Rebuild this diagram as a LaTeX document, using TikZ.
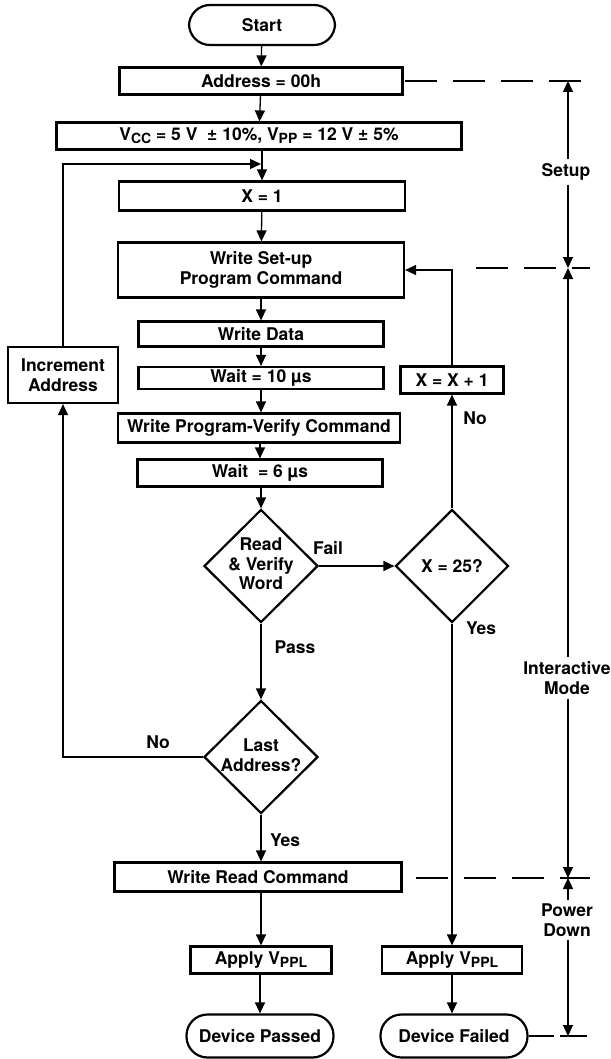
\documentclass[tikz,border=0pt]{standalone}
\usepackage{fontspec}
\setmainfont{TeX Gyre Heros}
\usetikzlibrary{shapes.geometric,arrows.meta}
\newcommand\fsz{\fontsize{17.5}{19.5}\selectfont\bfseries}
\newcommand\subx[1]{\raisebox{-3pt}{\fontsize{14}{14}\selectfont #1}}
\begin{document}
\begin{tikzpicture}[x=1pt,y=-1pt,
  box/.style={draw,line width=2.2pt,rectangle,inner sep=0pt,align=center,font=\fsz},
  term/.style={box,rounded corners=21pt},
  diam/.style={draw,line width=2.2pt,diamond,inner sep=0pt,aspect=1},
  txt/.style={inner sep=0pt,align=center,font=\fsz},
  lbl/.style={inner sep=4pt,align=center,font=\fsz},
  conn/.style={line width=1.3pt,-{Triangle[length=11pt,width=10pt]}},
  plain/.style={line width=1.3pt},
  dline/.style={line width=1.3pt,dash pattern=on 32pt off 16pt},
]
\useasboundingbox (0,0) rectangle (610,1059);
% main column
\node[term,minimum width=146pt,minimum height=40pt] (start) at (262,25) {Start};
\node[box,minimum width=283pt,minimum height=27pt] (addr) at (261,81) {Address = 00h};
\node[box,minimum width=405pt,minimum height=27pt] (vcc) at (259,136) {V\subx{CC} = 5 V\ \ ± 10\%, V\subx{PP} = 12 V ± 5\%};
\node[box,minimum width=286pt,minimum height=29pt] (x1) at (262,196) {X = 1};
\node[box,minimum width=286pt,minimum height=55pt] (wsp) at (261,270) {Write Set-up\\Program Command};
\node[box,minimum width=245pt,minimum height=25pt] (wd) at (261,334) {Write Data};
\node[box,minimum width=245pt,minimum height=22pt] (w10) at (261,378) {Wait = 10 µs};
\node[box,minimum width=282pt,minimum height=29pt] (wpv) at (259,428) {Write Program-Verify Command};
\node[box,minimum width=245pt,minimum height=27pt] (w6) at (260,473) {Wait\ \ = 6 µs};
\node[diam,minimum width=114pt,minimum height=113pt] (rv) at (261,566) {};
\node[txt] (rvt) at (261,564) {Read\\\& Verify\\Word};
\node[diam,minimum width=114pt,minimum height=113pt] (last) at (261,757) {};
\node[txt] (lastt) at (261,755) {Last\\Address?};
\node[box,minimum width=287pt,minimum height=29pt] (wrc) at (258,877) {Write Read Command};
\node[box,minimum width=141pt,minimum height=27pt] (apl) at (261,960) {Apply V\subx{PPL}};
\node[term,minimum width=147pt,minimum height=43pt] (dp) at (260,1036) {Device Passed};
% right column
\node[diam,minimum width=113pt,minimum height=113pt] (x25) at (452,566) {};
\node[txt] (x25t) at (452,566) {X = 25?};
\node[box,minimum width=103pt,minimum height=27pt] (xx1) at (452,380) {X = X + 1};
\node[box,minimum width=140pt,minimum height=27pt] (apr) at (452,960) {Apply V\subx{PPL}};
\node[term,minimum width=147pt,minimum height=43pt] (df) at (454,1036) {Device Failed};
% left
\node[box,minimum width=110pt,minimum height=56pt] (inc) at (63,375) {Increment\\Address};

% main flow
\draw[conn] (start) -- (addr);
\draw[conn] (addr) -- (vcc);
\draw[conn] (vcc.south -| x1) -- (x1);
\draw[conn] (x1) -- (wsp);
\draw[conn] (wsp) -- (wd);
\draw[conn] (wd) -- (w10);
\draw[conn] (w10) -- (wpv.north -| w10);
\draw[conn] (wpv.south -| w6) -- (w6);
\draw[conn] (w6.south -| rv) -- (rv);
\draw[conn] (rv) -- (last);
\node[txt] (pass) at (295,647) {Pass};
\draw[conn] (last) -- (wrc.north -| last);
\draw[conn] (wrc.south -| apl) -- (apl);
\draw[conn] (apl.south -| dp) -- (dp);
\node[txt] (yes2) at (285,840) {Yes};
% fail branch
\draw[conn] (rv.east) -- (x25.west);
\node[txt] (fail) at (328,548) {Fail};
\draw[conn] (x25.south) -- (apr);
\node[txt] (yes1) at (481,628) {Yes};
\draw[conn] (apr) -- (df.north -| apr);
\draw[conn] (x25.north) -- (xx1.south);
\node[txt] (no1) at (475,418) {No};
\draw[conn] (xx1.north) |- (wsp.east);
% address loop
\draw[conn] (last.west) -| (inc.south);
\node[txt] (no2) at (158,742) {No};
\coordinate (j1) at (261,164);
\draw[conn] (inc.north) |- (j1);

% scale on the right
\coordinate (s1) at (568,81);
\coordinate (s2) at (568,268);
\coordinate (s3) at (568,878);
\coordinate (s4) at (568,1036);
\node[lbl] (setup) at (566,172) {Setup};
\node[lbl] (imode) at (567,678) {Interactive\\Mode};
\node[lbl] (pdown) at (567,920) {Power\\Down};
\draw[conn] (setup.north -| s1) -- (s1);
\draw[conn] (setup.south -| s2) -- (s2);
\draw[conn] (imode.north -| s2) -- (s2);
\draw[conn] (imode.south -| s3) -- (s3);
\draw[conn] (pdown.north -| s3) -- (s3);
\draw[conn] (pdown.south -| s4) -- (s4);
\coordinate (d1a) at (405,81);  \coordinate (d1b) at (590,81);
\coordinate (d2a) at (476,268); \coordinate (d2b) at (590,268);
\coordinate (d3a) at (416,878); \coordinate (d3b) at (590,878);
\draw[dline] (d1a) -- (d1b);
\draw[dline] (d2a) -- (d2b);
\draw[dline] (d3a) -- (d3b);
\coordinate (e1) at (554,1036);
\coordinate (e2) at (560,1036); \coordinate (e3) at (587,1036);
\draw[plain] (df.east) -- (e1);
\draw[plain] (e2) -- (e3);
\end{tikzpicture}
\end{document}
